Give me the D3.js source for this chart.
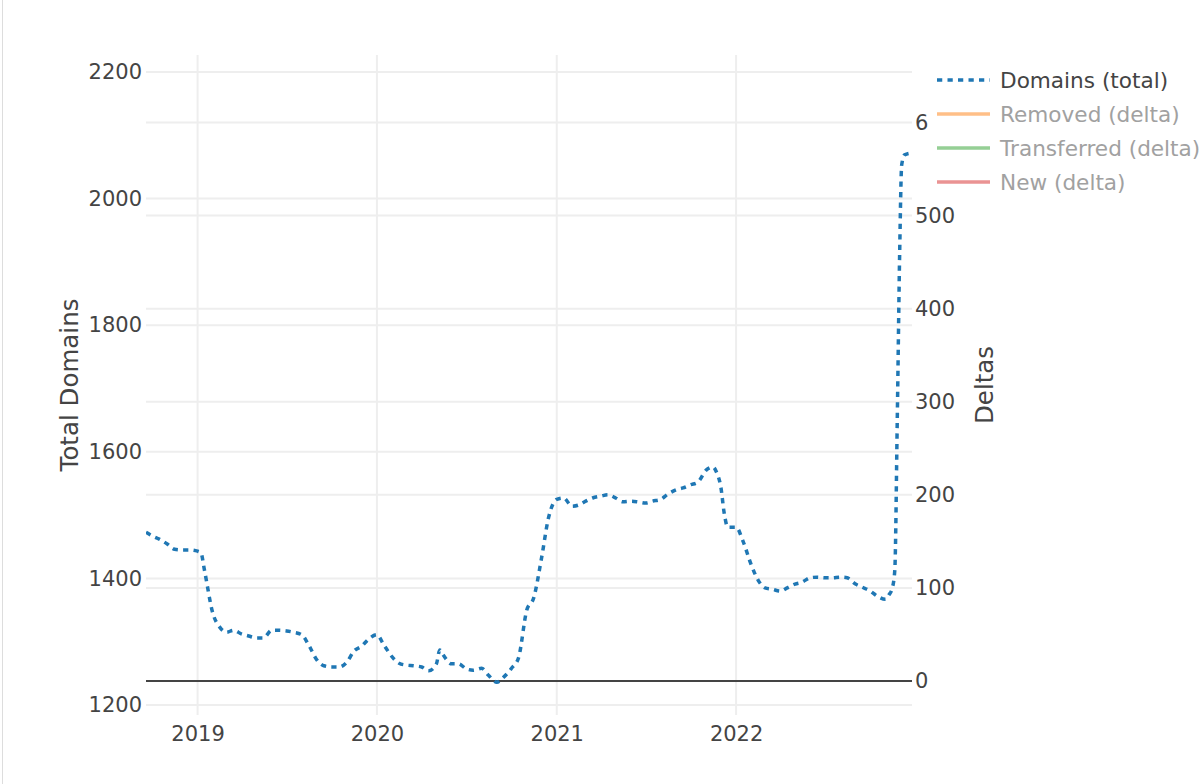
<!DOCTYPE html>
<html>
<head>
<meta charset="utf-8">
<script src="https://cdn.jsdelivr.net/npm/d3@7/dist/d3.min.js"></script>
<style>
  body { margin: 0; background: #fff; }
  svg { display: block; font-family: "DejaVu Sans", Verdana, sans-serif; }
  .tick text { fill: #444; font-size: 21px; }
</style>
</head>
<body>
<div id="chart"></div>
<script>
// Domains (total)
var dates = ["2018-09-18","2018-10-01","2018-10-15","2018-11-01","2018-11-15","2018-12-01","2018-12-15",
  "2019-01-01","2019-01-08","2019-01-15","2019-02-01","2019-02-15","2019-03-01","2019-03-15","2019-04-01","2019-04-15",
  "2019-05-01","2019-05-15","2019-06-01","2019-06-15","2019-07-01","2019-07-15","2019-08-01","2019-08-15",
  "2019-09-01","2019-09-15","2019-10-01","2019-10-15","2019-11-01","2019-11-15","2019-12-01","2019-12-15",
  "2020-01-01","2020-01-15","2020-02-01","2020-02-15","2020-03-01","2020-03-15","2020-04-01","2020-04-15",
  "2020-05-01","2020-05-08","2020-05-15","2020-06-01","2020-06-15","2020-07-01","2020-07-15","2020-08-01","2020-08-15",
  "2020-09-01","2020-09-15","2020-10-01","2020-10-15","2020-11-01","2020-11-15","2020-12-01","2020-12-15",
  "2021-01-01","2021-01-15","2021-02-01","2021-02-15","2021-03-01","2021-03-15","2021-04-01","2021-04-15",
  "2021-05-01","2021-05-15","2021-06-01","2021-06-15","2021-07-01","2021-07-15","2021-08-01","2021-08-15",
  "2021-09-01","2021-09-15","2021-10-01","2021-10-15","2021-11-01","2021-11-15","2021-11-22","2021-12-01","2021-12-08","2021-12-15",
  "2022-01-01","2022-01-15","2022-02-01","2022-02-15","2022-03-01","2022-03-15","2022-04-01","2022-04-15",
  "2022-05-01","2022-05-15","2022-06-01","2022-06-15","2022-07-01","2022-07-15","2022-08-01","2022-08-15",
  "2022-09-01","2022-09-15","2022-10-01","2022-10-15","2022-11-01","2022-11-08","2022-11-15","2022-11-20","2022-11-25",
  "2022-11-30","2022-12-04","2022-12-10","2022-12-25"];
var totals = [1473,1467,1462,1454,1446,1445,1445,
  1443,1440,1413,1345,1323,1315,1318,1312,1309,
  1306,1306,1318,1318,1317,1315,1311,1295,
  1271,1262,1260,1260,1268,1285,1293,1304,
  1311,1295,1276,1266,1263,1262,1260,1254,
  1265,1287,1279,1265,1265,1257,1255,1258,1247,
  1236,1244,1258,1274,1350,1369,1432,1495,
  1525,1527,1514,1516,1522,1527,1530,1532,
  1527,1521,1522,1521,1519,1522,1525,1533,
  1540,1543,1548,1552,1571,1576,1568,1544,1502,1481,
  1481,1459,1421,1397,1385,1383,1380,1385,
  1391,1394,1401,1402,1401,1401,1402,1401,
  1391,1386,1380,1372,1367,1374,1385,1413,1650,
  1919,2053,2069,2072];

var leftTicks = [1200,1400,1600,1800,2000,2200];
var rightTicks = [0,100,200,300,400,500,600];
var yearTicks = ["2019-01-01","2020-01-01","2021-01-01","2022-01-01"];

var legendNames = ["Domains (total)","Removed (delta)","Transferred (delta)","New (delta)"];
var legendColors = ["#1f77b4","#ffbf87","#95cf95","#ea9393"];

var parse = d3.timeParse("%Y-%m-%d");
var data = dates.map(function(d, i){ return { d: parse(d), v: totals[i] }; });

var W = 1200, H = 784;
var L = 146, R = 912, T = 55, B = 715;

var svg = d3.select("#chart").append("svg").attr("width", W).attr("height", H);

// faint frame line at the left edge
svg.append("line").attr("x1", 2.5).attr("x2", 2.5).attr("y1", 0).attr("y2", H)
  .attr("stroke", "#ddd").attr("stroke-width", 1);

var x  = d3.scaleTime().domain([parse("2018-09-18"), parse("2022-12-25")]).range([L, R]);
var yL = d3.scaleLinear().domain([1200, 2200]).range([705, 72]);
var yR = d3.scaleLinear().domain([0, 600]).range([681, 122.5]);

// grids
var grid = svg.append("g").attr("stroke", "#eee").attr("stroke-width", 2);
grid.selectAll(".gx").data(yearTicks.map(parse)).enter().append("line")
  .attr("x1", function(d){ return x(d); }).attr("x2", function(d){ return x(d); })
  .attr("y1", T).attr("y2", B);
grid.selectAll(".gl").data(leftTicks).enter().append("line")
  .attr("x1", L).attr("x2", R)
  .attr("y1", function(d){ return yL(d); }).attr("y2", function(d){ return yL(d); });
grid.selectAll(".gr").data(rightTicks.filter(function(d){ return d > 0; })).enter().append("line")
  .attr("x1", L).attr("x2", R)
  .attr("y1", function(d){ return yR(d); }).attr("y2", function(d){ return yR(d); });

// zero line of the delta axis
svg.append("line").attr("x1", L).attr("x2", R).attr("y1", yR(0)).attr("y2", yR(0))
  .attr("stroke", "#444").attr("stroke-width", 2);

// axes
var ax = svg.append("g").attr("transform", "translate(0," + B + ")")
  .call(d3.axisBottom(x).tickValues(yearTicks.map(parse)).tickFormat(d3.timeFormat("%Y")).tickSize(0).tickPadding(11));
var ayl = svg.append("g").attr("transform", "translate(" + L + ",0)")
  .call(d3.axisLeft(yL).tickValues(leftTicks).tickFormat(d3.format("d")).tickSize(0).tickPadding(4));
var ayr = svg.append("g").attr("transform", "translate(" + R + ",0)")
  .call(d3.axisRight(yR).tickValues(rightTicks).tickFormat(d3.format("d")).tickSize(0).tickPadding(3));
[ax, ayl, ayr].forEach(function(a){ a.select(".domain").remove(); a.attr("font-family", null).attr("font-size", null); });

// axis titles
svg.append("text").attr("transform", "translate(78,385) rotate(-90)")
  .attr("text-anchor", "middle").attr("fill", "#444").attr("font-size", 24.5).text("Total Domains");
svg.append("text").attr("transform", "translate(993,385) rotate(-90)")
  .attr("text-anchor", "middle").attr("fill", "#444").attr("font-size", 24.5).text("Deltas");

// line
svg.append("clipPath").attr("id", "clip").append("rect")
  .attr("x", L).attr("y", T).attr("width", R - L).attr("height", B - T);
var line = d3.line().x(function(d){ return x(d.d); }).y(function(d){ return yL(d.v); }).curve(d3.curveMonotoneX);
svg.append("path").datum(data).attr("clip-path", "url(#clip)")
  .attr("d", line).attr("fill", "none").attr("stroke", "#1f77b4")
  .attr("stroke-width", 3.5).attr("stroke-dasharray", "5.25,5.25");

// legend
var lg = svg.append("g");
lg.append("rect").attr("x", 928).attr("y", 60).attr("width", W - 928).attr("height", 140).attr("fill", "#fff");
var item = lg.selectAll(".item").data(legendNames).enter().append("g")
  .attr("transform", function(d, i){ return "translate(937," + (80 + i * 34) + ")"; });
item.append("line").attr("x1", 0).attr("x2", 53).attr("y1", 0).attr("y2", 0)
  .attr("stroke", function(d, i){ return legendColors[i]; })
  .attr("stroke-width", 3.5)
  .attr("stroke-dasharray", function(d, i){ return i === 0 ? "5.25,5.25" : null; });
item.append("text").attr("x", 63).attr("dy", "0.35em").attr("font-size", 21.6)
  .attr("fill", function(d, i){ return i === 0 ? "#444" : "#a1a1a1"; })
  .text(function(d){ return d; });
</script>
</body>
</html>
